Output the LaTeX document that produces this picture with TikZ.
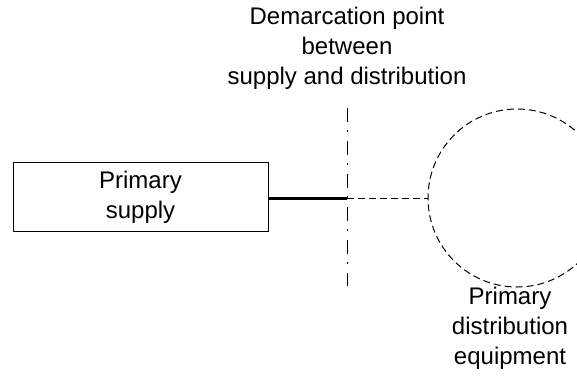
\documentclass[tikz,border=0pt]{standalone}
\usepackage{fontspec}
\setmainfont{Liberation Sans}
\usepackage{tikz}
\usetikzlibrary{positioning,calc}

\begin{document}
\begin{tikzpicture}[
      x = 1pt, y = -1pt,
      node distance = 3mm,
      lbl/.style={align=center, font=\fontsize{24}{30}\selectfont},
      box/.style={rectangle, draw, line width=1pt, minimum width=255pt, minimum height=69pt, lbl},
      equip/.style={circle, draw, line width=1pt, dash pattern=on 7pt off 4pt, minimum size=178pt, inner sep=0pt},
      feed/.style={line width=3pt},
      link/.style={line width=1pt, dash pattern=on 7pt off 4pt},
      demarc/.style={line width=1pt, dash pattern=on 14pt off 8pt on 2pt off 9pt},
    ]
      \useasboundingbox (0,0) rectangle (577,376);
      \clip (0,0) rectangle (577,376);

      % supply side
      \node[box] (supply) at (140.5,197) {Primary\\supply};

      % demarcation
      \coordinate (dtop) at (347,108);
      \coordinate (dbot) at (347,286);
      \coordinate (djoin) at (347,198);
      \node[lbl] (dlabel) at (347,48) {Demarcation point\\between\\supply and distribution};
      \draw[demarc] (dtop) -- (dbot);

      % distribution side
      \node[equip] (equipment) at (517,198) {};
      \node[lbl] (elabel) at (510,328) {Primary\\distribution\\equipment};

      \draw[feed] (supply.east |- djoin) -- (djoin);
      \draw[link] (djoin) -- (equipment.west);
    \end{tikzpicture}
\end{document}
